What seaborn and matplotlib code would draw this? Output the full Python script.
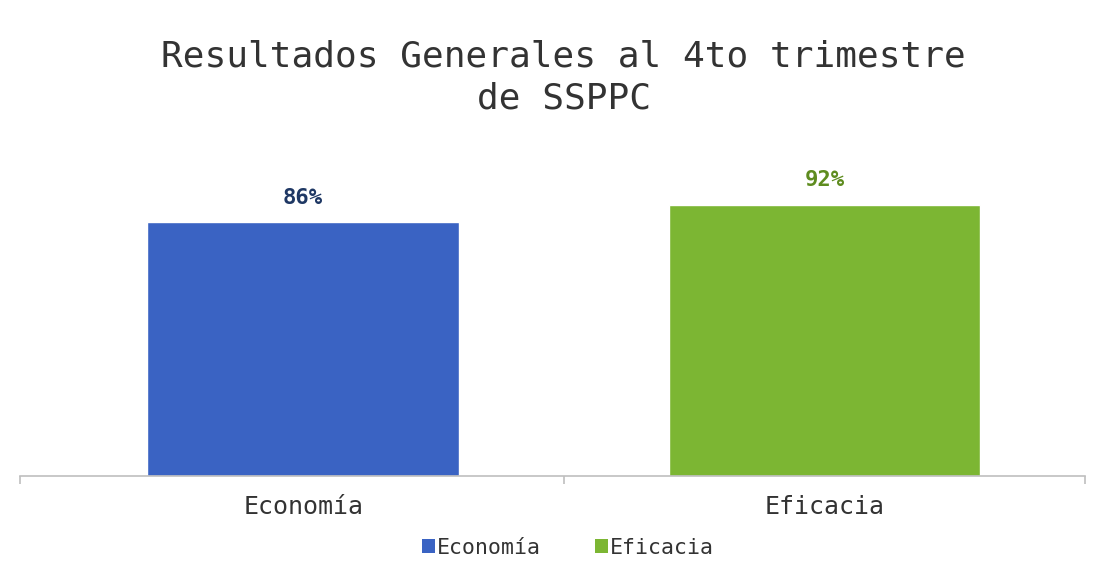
import matplotlib
matplotlib.use("Agg")
import matplotlib.pyplot as plt
import seaborn as sns
import pandas as pd
from matplotlib.patches import Patch

categories = ["Economía", "Eficacia"]
values = [86, 92]
labels = ["86%", "92%"]
bar_colors = ["#3A63C3", "#7CB633"]
label_colors = ["#1F3864", "#5E8C1F"]
title = "Resultados Generales al 4to trimestre\nde SSPPC"

sns.set_theme(style="white")
plt.rcParams["font.family"] = ["DejaVu Sans Mono", "DejaVu Sans"]

df = pd.DataFrame({"cat": categories, "val": values})

fig = plt.figure(figsize=(11.03, 5.81), dpi=100)
ax = fig.add_axes([20/1103, 105/581, 1065/1103, 295/581])

sns.barplot(data=df, x="cat", y="val", hue="cat", palette=bar_colors,
            width=0.598, ax=ax, legend=False, saturation=1)

ax.set_ylim(0, 100)
ax.set_xlim(-0.543, 1.4995)
for s in ["top", "right", "left"]:
    ax.spines[s].set_visible(False)
ax.spines["bottom"].set_color("#BFBFBF")
ax.spines["bottom"].set_linewidth(1.2)
ax.set_yticks([])
ax.set_xlabel("")
ax.set_ylabel("")
ax.set_xticks([0, 1])
ax.set_xticklabels(categories, fontsize=18, color="#333333")
ax.tick_params(axis="x", length=0, pad=14)
ax.set_xticks([-0.543, 0.5, 1.4995], minor=True)
ax.tick_params(axis="x", which="minor", length=6, color="#BFBFBF", width=1.2, bottom=True)

for i, p in enumerate(ax.patches[:len(values)]):
    ax.text(p.get_x() + p.get_width()/2, p.get_height() + 5, labels[i],
            ha="center", va="bottom", fontsize=16, fontweight="bold",
            color=label_colors[i])

fig.text(0.511, 0.867, title, ha="center", va="center", fontsize=26,
         color="#333333", linespacing=1.3)

handles = [Patch(facecolor=c, edgecolor="none", label=l) for c, l in zip(bar_colors, categories)]
fig.legend(handles=handles, loc="center", bbox_to_anchor=(0.515, 0.057), ncol=2,
           frameon=False, fontsize=15.5, handlelength=0.6, handleheight=0.6,
           handletextpad=0.1, columnspacing=2.5, labelcolor="#333333")

fig.savefig("out.png", dpi=100, facecolor="white")
